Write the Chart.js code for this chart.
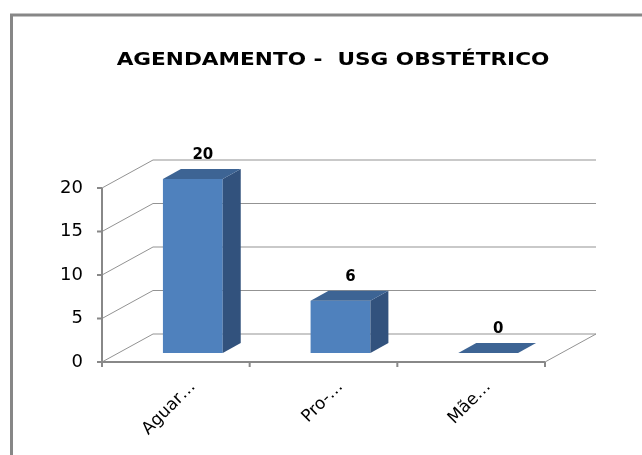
<!DOCTYPE html>
<html>
<head>
<meta charset="utf-8">
<script src="https://cdn.jsdelivr.net/npm/chart.js@4.4.0/dist/chart.umd.min.js"></script>
<style>
  html, body { margin: 0; padding: 0; background: #fff; }
  #wrap { width: 642px; height: 455px; position: relative; }
</style>
</head>
<body>
<div id="wrap"><canvas id="chart"></canvas></div>
<script>
// Data
const categories = ['Aguar…', 'Pro-…', 'Mãe…'];
const values = [20, 6, 0];
const yTicks = [0, 5, 10, 15, 20];
const chartTitle = 'AGENDAMENTO -  USG OBSTÉTRICO';

// 3D look: bars sit in a middle plane, front axes and back wall are offset from it
const FRONT = { x: -17, y: 9 };
const BACK = { x: 34, y: -19 };
const DEPTH = { x: 18, y: -10 };

const colors = {
  front: '#4F81BD',
  side: '#32527D',
  top: '#3D6494',
  grid: '#939393',
  axis: '#888888',
  frame: '#878787'
};

const fake3d = {
  id: 'fake3d',
  beforeDraw(chart) {
    const ctx = chart.ctx;
    ctx.save();
    ctx.fillStyle = '#fff';
    ctx.fillRect(0, 0, chart.width, chart.height);
    ctx.strokeStyle = colors.frame;
    ctx.lineWidth = 3;
    ctx.strokeRect(11.5, 15, chart.width + 20, chart.height + 20);
    ctx.restore();
  },
  beforeDatasetsDraw(chart) {
    const ctx = chart.ctx;
    const area = chart.chartArea;
    const y = chart.scales.y;
    ctx.save();

    // back wall gridlines + left side wall diagonals
    ctx.strokeStyle = colors.grid;
    ctx.lineWidth = 1;
    yTicks.forEach(v => {
      const py = y.getPixelForValue(v);
      ctx.beginPath();
      ctx.moveTo(area.left + FRONT.x, py + FRONT.y);
      ctx.lineTo(area.left + BACK.x, py + BACK.y);
      ctx.lineTo(area.right + BACK.x, py + BACK.y);
      ctx.stroke();
    });
    // floor right edge
    const zero = y.getPixelForValue(0);
    ctx.beginPath();
    ctx.moveTo(area.right + FRONT.x, zero + FRONT.y);
    ctx.lineTo(area.right + BACK.x, zero + BACK.y);
    ctx.stroke();

    // front axes
    ctx.strokeStyle = colors.axis;
    ctx.lineWidth = 2;
    const ax = area.left + FRONT.x;
    const top = y.getPixelForValue(yTicks[yTicks.length - 1]) + FRONT.y;
    const bot = zero + FRONT.y;
    ctx.beginPath();
    ctx.moveTo(ax, top);
    ctx.lineTo(ax, bot);
    ctx.lineTo(area.right + FRONT.x, bot);
    yTicks.forEach(v => {
      const py = y.getPixelForValue(v) + FRONT.y;
      ctx.moveTo(ax - 5, py);
      ctx.lineTo(ax, py);
    });
    const step = area.width / categories.length;
    for (let k = 0; k <= categories.length; k++) {
      const px = area.left + k * step + FRONT.x;
      ctx.moveTo(px, bot);
      ctx.lineTo(px, bot + 5);
    }
    ctx.stroke();
    ctx.restore();
  },
  afterDatasetsDraw(chart) {
    const ctx = chart.ctx;
    const meta = chart.getDatasetMeta(0);
    ctx.save();
    meta.data.forEach((bar, i) => {
      const l = bar.x - bar.width / 2;
      const r = bar.x + bar.width / 2;
      // side face
      if (bar.base - bar.y > 0) {
        ctx.fillStyle = colors.side;
        ctx.beginPath();
        ctx.moveTo(r, bar.y);
        ctx.lineTo(r + DEPTH.x, bar.y + DEPTH.y);
        ctx.lineTo(r + DEPTH.x, bar.base + DEPTH.y);
        ctx.lineTo(r, bar.base);
        ctx.closePath();
        ctx.fill();
      }
      // top face
      ctx.fillStyle = colors.top;
      ctx.beginPath();
      ctx.moveTo(l, bar.y);
      ctx.lineTo(l + DEPTH.x, bar.y + DEPTH.y);
      ctx.lineTo(r + DEPTH.x, bar.y + DEPTH.y);
      ctx.lineTo(r, bar.y);
      ctx.closePath();
      ctx.fill();

      // value label
      ctx.fillStyle = '#000';
      ctx.font = 'bold 15px "DejaVu Sans"';
      ctx.textAlign = 'center';
      ctx.textBaseline = 'middle';
      ctx.fillText(String(values[i]), bar.x + 10, bar.y - 24);
    });
    ctx.restore();
  },
  afterDraw(chart) {
    const ctx = chart.ctx;
    ctx.save();
    ctx.fillStyle = '#000';
    ctx.font = 'bold 18px "DejaVu Sans"';
    ctx.textAlign = 'center';
    ctx.textBaseline = 'middle';
    ctx.translate(333, 60);
    ctx.scale(1.2, 1);
    ctx.fillText(chartTitle, 0, 0);
    ctx.restore();
  }
};

new Chart(document.getElementById('chart'), {
  type: 'bar',
  data: {
    labels: categories,
    datasets: [{
      label: 'Agendamento',
      data: values,
      backgroundColor: colors.front,
      borderWidth: 0,
      categoryPercentage: 1,
      barPercentage: 0.405
    }]
  },
  options: {
    responsive: true,
    maintainAspectRatio: false,
    animation: false,
    devicePixelRatio: 1,
    layout: {
      padding: { left: 40, right: 80, top: 179, bottom: 0 }
    },
    plugins: {
      legend: { display: false },
      title: { display: false },
      tooltip: { enabled: false }
    },
    scales: {
      y: {
        min: yTicks[0],
        max: yTicks[yTicks.length - 1],
        ticks: {
          stepSize: yTicks[1] - yTicks[0],
          padding: 36,
          labelOffset: 9,
          color: '#000',
          font: { family: 'DejaVu Sans', size: 18 }
        },
        grid: { display: false, drawTicks: false },
        border: { display: false },
        afterFit(scale) { scale.width = 79; }
      },
      x: {
        ticks: {
          minRotation: 45,
          maxRotation: 45,
          autoSkip: false,
          padding: 24,
          color: '#000',
          font: { family: 'DejaVu Sans', size: 17 }
        },
        grid: { display: false, drawTicks: false },
        border: { display: false },
        afterFit(scale) { scale.height = 102; }
      }
    }
  },
  plugins: [fake3d]
});
</script>
</body>
</html>
